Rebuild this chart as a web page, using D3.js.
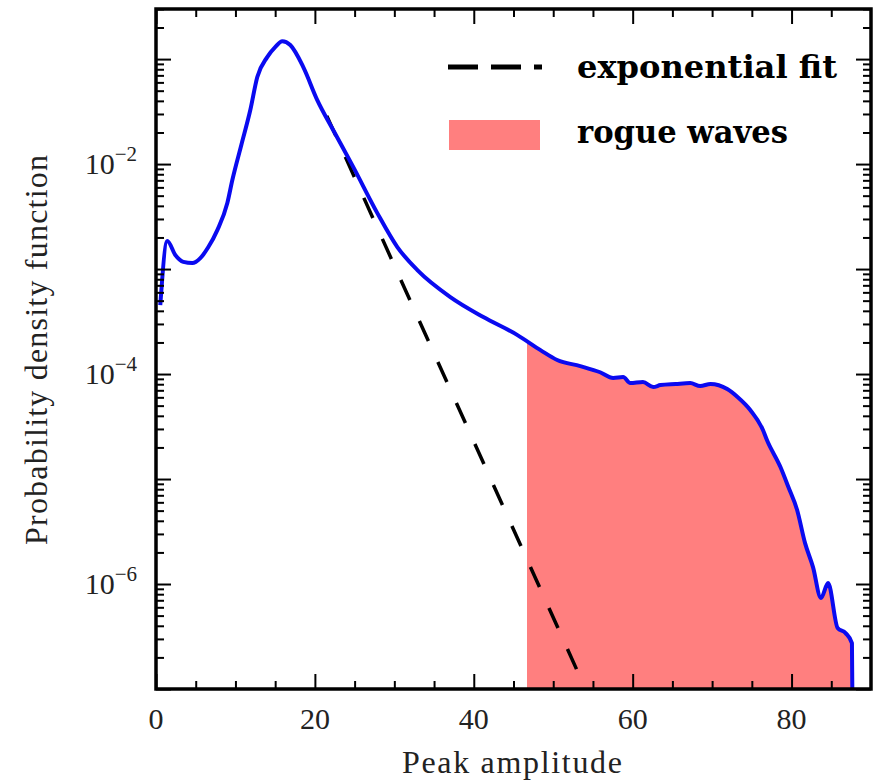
<!DOCTYPE html>
<html>
<head>
<meta charset="utf-8">
<script src="https://cdn.jsdelivr.net/npm/d3@7"></script>
<style>
  body { margin: 0; background: #fff; }
  svg { display: block; }
  .tick-label { font-family: "Liberation Serif", "DejaVu Serif", serif; font-size: 30px; fill: #222; }
  .axis-title { font-family: "Liberation Serif", "DejaVu Serif", serif; font-size: 32px; fill: #222; }
  .legend-text { font-family: "DejaVu Serif", "Liberation Serif", serif; font-weight: bold; font-size: 31px; fill: #000; }
</style>
</head>
<body>
<div class="chart-container"></div>
<script>
// peak amplitude (x) and probability density (y)
var amplitude = [0.54, 1.42, 2.43, 3.44, 4.57, 5.58, 6.59, 7.72, 8.98, 9.61, 10.74, 11.87, 12.75, 14.0, 15.0, 15.9, 16.9, 18.54,
  20.3, 22.3, 24.84, 27.86, 30.38, 32.9, 37.05, 41.2, 45.5, 48.4, 50.5, 53.4, 55.9, 57.55, 58.8, 59.7, 61.3, 62.6, 63.5,
  65.4, 67.25, 68.5, 69.8, 71.9, 73.2, 74.8, 76.4, 76.9, 78.6, 79.6, 80.7, 81.7, 82.7, 83.7, 84.6, 85.8, 86.8, 87.6, 87.65];
var density = [4.54e-4, 1.85e-3, 1.36e-3, 1.17e-3, 1.14e-3, 1.27e-3, 1.62e-3, 2.35e-3, 4.26e-3, 7.05e-3, 1.52e-2, 3.27e-2, 6.75e-2, 0.1045, 0.130, 0.148, 0.136, 0.0839,
  0.0407, 0.0211, 9.35e-3, 3.41e-3, 1.62e-3, 9.77e-4, 5.41e-4, 3.49e-4, 2.35e-4, 1.69e-4, 1.36e-4, 1.19e-4, 1.04e-4, 9.16e-5, 9.35e-5, 8.20e-5, 8.39e-5, 7.52e-5, 7.85e-5,
  8.04e-5, 8.20e-5, 7.69e-5, 8.04e-5, 7.19e-5, 6.04e-5, 4.54e-5, 2.93e-5, 2.35e-5, 1.30e-5, 8.39e-6, 5.07e-6, 2.45e-6, 1.45e-6, 7.36e-7, 1.02e-6, 3.81e-7, 3.41e-7, 2.74e-7, 1e-7];

// exponential fit: two end points of the straight (log) line
var fitAmplitude = [21.5, 54.06];
var fitDensity = [0.0288, 1e-7];

var rogueStart = 46.7;

var xMajorTicks = [0, 20, 40, 60, 80];
var xMinorTicks = [5, 10, 15, 25, 30, 35, 45, 50, 55, 65, 70, 75, 85];
var yMajorTicks = [1e-7, 1e-6, 1e-5, 1e-4, 1e-3, 1e-2, 1e-1];
var yLabelTicks = [1e-6, 1e-4, 1e-2];
var yLabelExp = ["\u22126", "\u22124", "\u22122"];

var legendLabels = ["exponential fit", "rogue waves"];

var width = 877, height = 781;
var plotLeft = 156, plotRight = 871, plotTop = 9, plotBottom = 689;

var svg = d3.select(".chart-container").append("svg")
  .attr("width", width).attr("height", height);

var x = d3.scaleLinear().domain([0, 90]).range([plotLeft, plotRight]);
var y = d3.scaleLog().domain([1e-7, 0.3]).range([plotBottom, plotTop]);

// minor ticks of the log axis: 2..9 in every decade
var yMinorTicks = [];
yMajorTicks.forEach(function (d) {
  for (var k = 2; k <= 9; k++) {
    var v = k * d;
    if (v <= 0.3 + 1e-12) yMinorTicks.push(v);
  }
});

var pts = amplitude.map(function (a, i) { return [a, density[i]]; });

// rogue wave fill, clipped to the right of the threshold
svg.append("clipPath").attr("id", "rogue-clip")
  .append("rect")
  .attr("x", x(rogueStart)).attr("y", plotTop)
  .attr("width", x(90) - x(rogueStart)).attr("height", plotBottom - plotTop);

var area = d3.area()
  .curve(d3.curveMonotoneX)
  .x(function (d) { return x(d[0]); })
  .y0(plotBottom)
  .y1(function (d) { return y(d[1]); });

svg.append("path")
  .datum(pts)
  .attr("clip-path", "url(#rogue-clip)")
  .attr("fill", "#ff7f7f")
  .attr("d", area);

// exponential fit
var line = d3.line()
  .x(function (d) { return x(d[0]); })
  .y(function (d) { return y(d[1]); });

svg.append("path")
  .datum(fitAmplitude.map(function (a, i) { return [a, fitDensity[i]]; }))
  .attr("fill", "none")
  .attr("stroke", "#000")
  .attr("stroke-width", 3.5)
  .attr("stroke-dasharray", "22,23")
  .attr("d", line);

// pdf curve
svg.append("path")
  .datum(pts)
  .attr("fill", "none")
  .attr("stroke", "#0a0af0")
  .attr("stroke-width", 4)
  .attr("stroke-linejoin", "round")
  .attr("d", line.curve(d3.curveMonotoneX));

// ticks on all four sides, pointing inward
function ticks(axis, vals, size, transform) {
  var g = svg.append("g")
    .attr("transform", transform)
    .call(axis.tickValues(vals).tickSize(size).tickFormat(""));
  g.select(".domain").remove();
  g.selectAll("line").attr("stroke", "#000").attr("stroke-width", 2);
  return g;
}
ticks(d3.axisBottom(x), xMajorTicks, -15, "translate(0," + plotBottom + ")");
ticks(d3.axisBottom(x), xMinorTicks, -8, "translate(0," + plotBottom + ")");
ticks(d3.axisTop(x), xMajorTicks, -15, "translate(0," + plotTop + ")");
ticks(d3.axisTop(x), xMinorTicks, -8, "translate(0," + plotTop + ")");
ticks(d3.axisLeft(y), yMajorTicks, -15, "translate(" + plotLeft + ",0)");
ticks(d3.axisLeft(y), yMinorTicks, -8, "translate(" + plotLeft + ",0)");
ticks(d3.axisRight(y), yMajorTicks, -15, "translate(" + plotRight + ",0)");
ticks(d3.axisRight(y), yMinorTicks, -8, "translate(" + plotRight + ",0)");

// frame
svg.append("rect")
  .attr("x", plotLeft).attr("y", plotTop)
  .attr("width", plotRight - plotLeft).attr("height", plotBottom - plotTop)
  .attr("fill", "none").attr("stroke", "#000").attr("stroke-width", 3.5);

// tick labels
svg.selectAll(".xlab").data(xMajorTicks).enter().append("text")
  .attr("class", "tick-label")
  .attr("x", function (d) { return x(d); })
  .attr("y", 729)
  .attr("text-anchor", "middle")
  .text(function (d) { return d; });

var ylab = svg.selectAll(".ylab").data(yLabelTicks).enter().append("text")
  .attr("class", "tick-label")
  .attr("x", 137)
  .attr("y", function (d) { return y(d) + 10; })
  .attr("text-anchor", "end");
ylab.append("tspan").text("10");
ylab.append("tspan").attr("dy", -13).attr("font-size", 21)
  .text(function (d, i) { return yLabelExp[i]; });

// axis titles
svg.append("text")
  .attr("class", "axis-title")
  .attr("x", 512).attr("y", 773)
  .attr("text-anchor", "middle")
  .attr("textLength", 220).attr("lengthAdjust", "spacing")
  .text("Peak amplitude");

svg.append("text")
  .attr("class", "axis-title")
  .attr("transform", "translate(47,350) rotate(-90)")
  .attr("text-anchor", "middle")
  .attr("textLength", 390).attr("lengthAdjust", "spacing")
  .text("Probability density function");

// legend
svg.append("line")
  .attr("x1", 448).attr("x2", 542).attr("y1", 67).attr("y2", 67)
  .attr("stroke", "#000").attr("stroke-width", 5)
  .attr("stroke-dasharray", "30,13");
svg.append("rect")
  .attr("x", 449).attr("y", 120).attr("width", 91).attr("height", 30)
  .attr("fill", "#ff7f7f");

svg.append("text").attr("class", "legend-text")
  .attr("x", 577).attr("y", 78)
  .attr("textLength", 260).attr("lengthAdjust", "spacingAndGlyphs")
  .text(legendLabels[0]);
svg.append("text").attr("class", "legend-text")
  .attr("x", 577).attr("y", 143)
  .attr("textLength", 211).attr("lengthAdjust", "spacingAndGlyphs")
  .text(legendLabels[1]);
</script>
</body>
</html>
